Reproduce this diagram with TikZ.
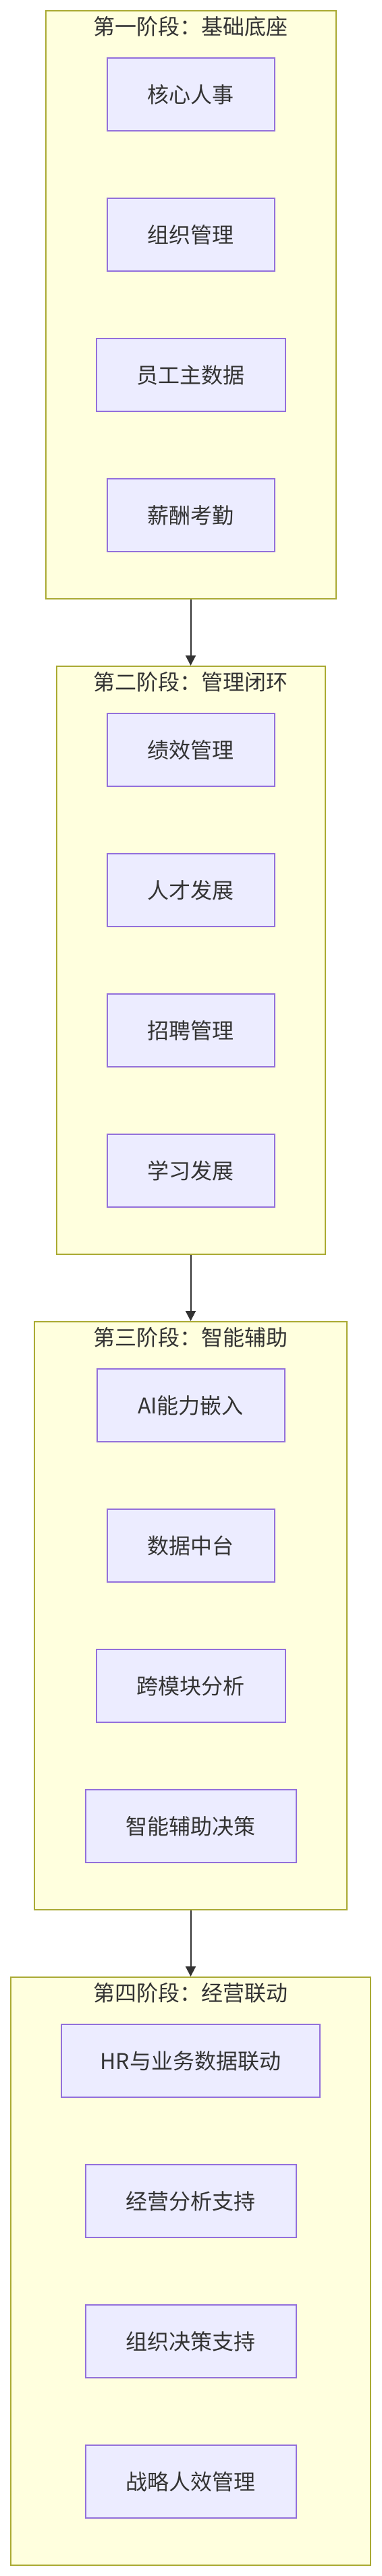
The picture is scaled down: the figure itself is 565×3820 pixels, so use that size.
\documentclass[tikz,border=0pt]{standalone}
\usepackage{fontspec}
\newfontfamily\cjk{Noto Sans CJK SC}
\usetikzlibrary{arrows.meta}
\definecolor{clfill}{HTML}{FFFFDE}
\definecolor{clline}{HTML}{AAAA33}
\definecolor{ndfill}{HTML}{ECECFF}
\definecolor{ndline}{HTML}{9370DB}
\definecolor{txt}{HTML}{333333}
\definecolor{arr}{HTML}{333333}
\tikzset{
  cluster/.style={draw=clline, fill=clfill, line width=2pt, inner sep=0pt, minimum height=872pt},
  cltitle/.style={text=txt, font=\cjk\fontsize{32}{38}\selectfont, inner sep=0pt},
  box/.style={draw=ndline, fill=ndfill, line width=2pt, inner sep=0pt, minimum height=108pt,
    text=txt, font=\cjk\fontsize{32}{38}\selectfont},
  flow/.style={draw=arr, line width=2pt, -{Triangle[length=15pt,width=15pt]}}
}
\begin{document}
\begin{tikzpicture}[x=1pt,y=-1pt]
\useasboundingbox (0,0) rectangle (565,3820);
% cluster 1
\node[cluster, minimum width=430pt] (c1) at (282.5,452) {};
\node[cltitle] (t1) at (282.5,39) {第一阶段：基础底座};
\node[box, minimum width=248pt] (n1) at (282.5,140) {核心人事};
\node[box, minimum width=248pt] (n2) at (282.5,348) {组织管理};
\node[box, minimum width=280pt] (n3) at (282.5,556) {员工主数据};
\node[box, minimum width=248pt] (n4) at (282.5,764) {薪酬考勤};
% cluster 2
\node[cluster, minimum width=398pt] (c2) at (282.5,1424) {};
\node[cltitle] (t2) at (282.5,1011) {第二阶段：管理闭环};
\node[box, minimum width=248pt] (n5) at (282.5,1112) {绩效管理};
\node[box, minimum width=248pt] (n6) at (282.5,1320) {人才发展};
\node[box, minimum width=248pt] (n7) at (282.5,1528) {招聘管理};
\node[box, minimum width=248pt] (n8) at (282.5,1736) {学习发展};
% cluster 3
\node[cluster, minimum width=463pt] (c3) at (282.5,2396) {};
\node[cltitle] (t3) at (282.5,1983) {第三阶段：智能辅助};
\node[box, minimum width=278pt] (n9) at (282.5,2084) {AI能力嵌入};
\node[box, minimum width=248pt] (n10) at (282.5,2292) {数据中台};
\node[box, minimum width=280pt] (n11) at (282.5,2500) {跨模块分析};
\node[box, minimum width=312pt] (n12) at (282.5,2708) {智能辅助决策};
% cluster 4
\node[cluster, minimum width=533pt] (c4) at (282.5,3368) {};
\node[cltitle] (t4) at (282.5,2955) {第四阶段：经营联动};
\node[box, minimum width=383pt] (n13) at (282.5,3056) {HR与业务数据联动};
\node[box, minimum width=312pt] (n14) at (282.5,3264) {经营分析支持};
\node[box, minimum width=312pt] (n15) at (282.5,3472) {组织决策支持};
\node[box, minimum width=312pt] (n16) at (282.5,3680) {战略人效管理};
% connectors
\draw[flow] (c1.south) -- (c2.north);
\draw[flow] (c2.south) -- (c3.north);
\draw[flow] (c3.south) -- (c4.north);
\end{tikzpicture}
\end{document}
